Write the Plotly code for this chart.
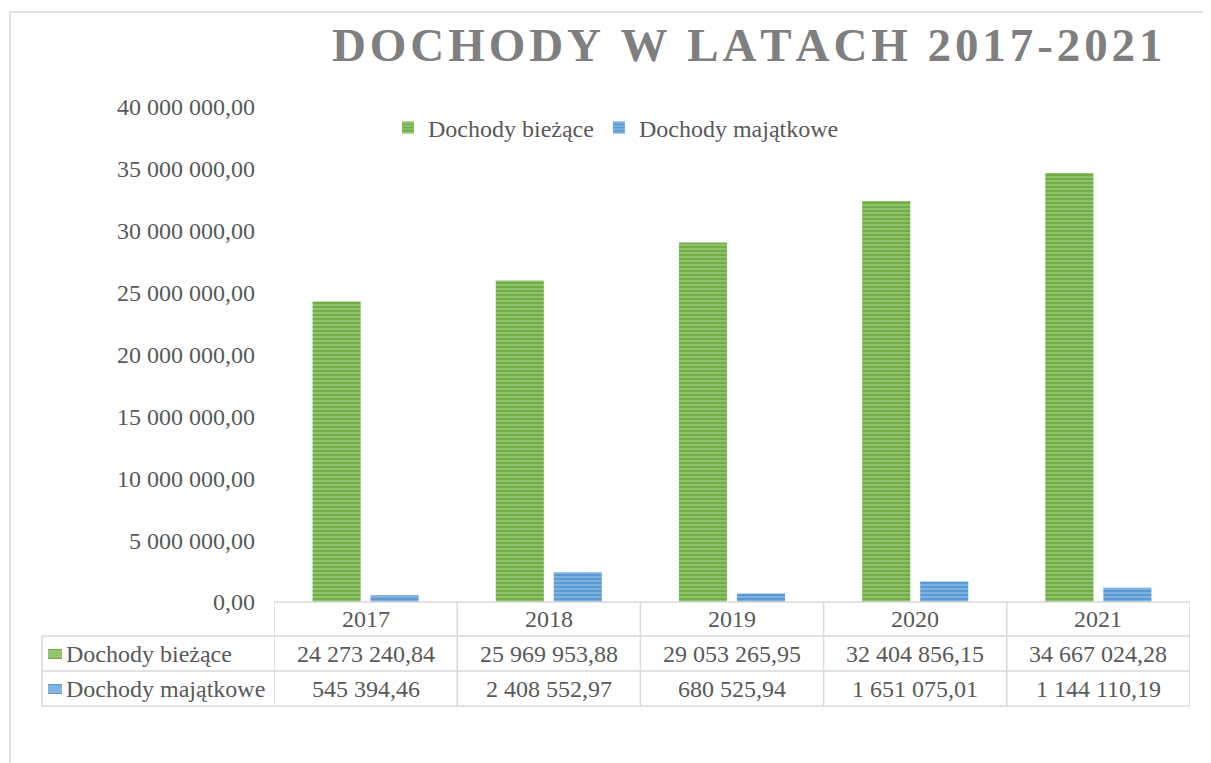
"""Dochody w latach 2017-2021"""
import plotly.graph_objects as go

# dane
lata = ["2017", "2018", "2019", "2020", "2021"]
dochody_biezace = [24273240.84, 25969953.88, 29053265.95, 32404856.15, 34667024.28]
dochody_majatkowe = [545394.46, 2408552.97, 680525.94, 1651075.01, 1144110.19]
nazwy = ["Dochody bieżące", "Dochody majątkowe"]
y_ticks = [0, 5e6, 10e6, 15e6, 20e6, 25e6, 30e6, 35e6, 40e6]

FONT = "Liberation Serif, Times New Roman, serif"
TXT = "#595959"
LINE = "#d9d9d9"
OFF = 8  # margines strony w html
W, H = 1211 - OFF, 763 - OFF
L, R, T, B = 274 - OFF, 21, 107 - OFF, 161


def px_x(px):
    # px = wspolrzedna na zrzucie ekranu
    return (px - OFF - L) / (W - L - R)


def px_y(py):
    return (H - B - (py - OFF)) / (H - T - B)


def fmt(v):
    return f"{v:,.2f}".replace(",", " ").replace(".", ",")


fig = go.Figure()
fig.add_trace(go.Bar(x=lata, y=dochody_biezace, name=nazwy[0],
                     marker=dict(color="#70ad47", line=dict(width=0),
                                 pattern=dict(shape="-", size=4, solidity=0.45,
                                              fgcolor="#b5dc9c", bgcolor="#70ad47"))))
fig.add_trace(go.Bar(x=lata, y=dochody_majatkowe, name=nazwy[1],
                     marker=dict(color="#5b9bd5", line=dict(width=0),
                                 pattern=dict(shape="-", size=4, solidity=0.45,
                                              fgcolor="#a9cdee", bgcolor="#5b9bd5"))))

shapes = []
line = dict(color=LINE, width=1.5)
# ramka wykresu
shapes.append(dict(type="rect", xref="paper", yref="paper", x0=px_x(10), x1=px_x(1220),
                   y0=px_y(775), y1=px_y(12), line=line))
# tabela danych - linie poziome
shapes.append(dict(type="line", xref="paper", yref="paper", x0=0, x1=1,
                   y0=px_y(602), y1=px_y(602), line=line))
for py in [636, 671, 706]:
    shapes.append(dict(type="line", xref="paper", yref="paper", x0=px_x(42), x1=1,
                       y0=px_y(py), y1=px_y(py), line=line))
# linie pionowe
shapes.append(dict(type="line", xref="paper", yref="paper", x0=px_x(42), x1=px_x(42),
                   y0=px_y(636), y1=px_y(706), line=line))
for i in range(len(lata) + 1):
    shapes.append(dict(type="line", xref="x", yref="paper", x0=i - 0.5, x1=i - 0.5,
                       y0=px_y(602), y1=px_y(706), line=line))
# znaczniki legendy w tabeli
for py, col, jasny in [(654, "#70ad47", "#b5dc9c"), (689, "#5b9bd5", "#a9cdee")]:
    shapes.append(dict(type="rect", xref="paper", yref="paper", x0=px_x(48), x1=px_x(62),
                       y0=px_y(py + 5), y1=px_y(py - 5), fillcolor=col, line=dict(width=0)))
    for k in range(-3, 4, 2):
        shapes.append(dict(type="line", xref="paper", yref="paper", x0=px_x(48), x1=px_x(62),
                           y0=px_y(py + k), y1=px_y(py + k), line=dict(color=jasny, width=1)))

ann = []
cell_font = dict(size=24, color=TXT, family=FONT)
for i, rok in enumerate(lata):
    ann.append(dict(x=i, y=px_y(619), xref="x", yref="paper", text=rok, showarrow=False,
                    xanchor="center", yanchor="middle", font=cell_font))
    ann.append(dict(x=i, y=px_y(654), xref="x", yref="paper", text=fmt(dochody_biezace[i]),
                    showarrow=False, xanchor="center", yanchor="middle", font=cell_font))
    ann.append(dict(x=i, y=px_y(689), xref="x", yref="paper", text=fmt(dochody_majatkowe[i]),
                    showarrow=False, xanchor="center", yanchor="middle", font=cell_font))
for py, nazwa in [(654, nazwy[0]), (689, nazwy[1])]:
    ann.append(dict(x=px_x(64), y=px_y(py), xref="paper", yref="paper", text=nazwa,
                    xanchor="left", yanchor="middle", showarrow=False, font=cell_font))

# tytul z rozstrzelonymi literami
tytul = "\u200a".join("DOCHODY W LATACH 2017-2021")
ann.append(dict(x=px_x(747), y=px_y(45), xref="paper", yref="paper", text="<b>" + tytul + "</b>",
                xanchor="center", yanchor="middle", showarrow=False,
                font=dict(size=47, color="#7f7f7f", family=FONT)))

fig.update_layout(
    width=W, height=H,
    margin=dict(l=L, r=R, t=T, b=B),
    paper_bgcolor="white", plot_bgcolor="white",
    separators=", ",
    barmode="group", bargap=0.367, bargroupgap=0.17,
    font=dict(family=FONT, color=TXT, size=24),
    showlegend=True,
    legend=dict(orientation="h", x=px_x(388), y=px_y(128), xanchor="left", yanchor="middle",
                font=dict(size=24, color=TXT, family=FONT), itemwidth=30, traceorder="normal"),
    shapes=shapes, annotations=ann,
)
fig.update_xaxes(type="category", range=[-0.5, len(lata) - 0.5], showticklabels=False,
                 showline=False, showgrid=False, ticks="")
fig.update_yaxes(range=[0, 40e6], tickvals=y_ticks, tickformat=",.2f", showgrid=False,
                 showline=False, zeroline=False, ticks="", ticklabelstandoff=18,
                 tickfont=dict(size=24, color=TXT, family=FONT))

fig.write_html("out.html")
